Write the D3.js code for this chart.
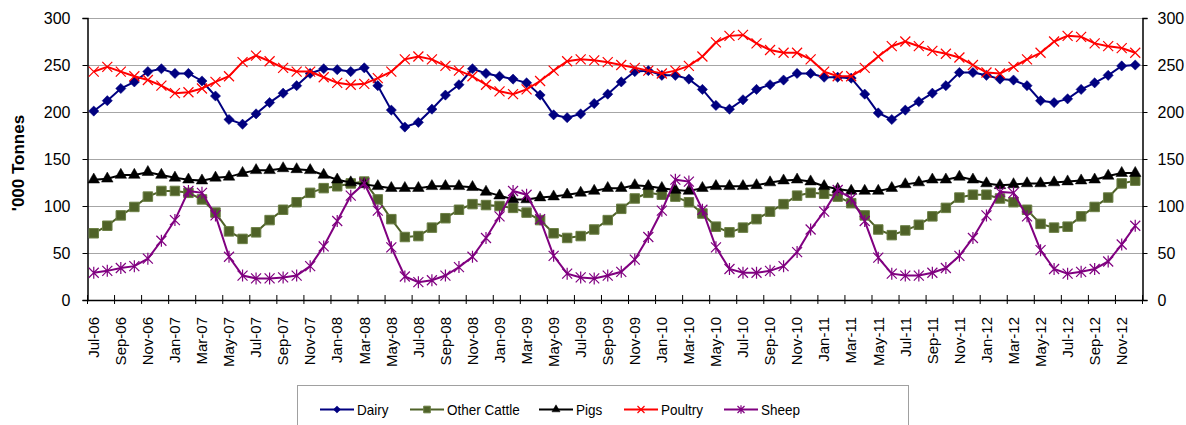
<!DOCTYPE html>
<html>
<head>
<meta charset="utf-8">
<script src="https://cdn.jsdelivr.net/npm/d3@7"></script>
<style>
  body { margin: 0; background: #fff; }
  svg { font-family: Arial, "Liberation Sans", sans-serif; }
</style>
</head>
<body>
<svg width="1186" height="425"></svg>
<script>
// monthly series, Jul-06 .. Dec-12, '000 tonnes

var months = d3.timeMonths(new Date(2006, 6, 1), new Date(2013, 0, 1));
var fmt = d3.timeFormat('%b-%y');
var labels = months.map(fmt);

var dairy = [201, 212, 225, 232, 243, 246, 241, 241, 233, 217, 192, 187, 198, 210, 220, 228, 241, 246, 245, 243, 247, 228, 202,
  184, 189, 203, 218, 229, 246, 241, 238, 235, 231, 218, 197, 194, 198, 209, 219, 232, 243, 244, 239, 239, 235, 224, 207, 203, 213, 224, 229, 234,
  241, 241, 237, 237, 236, 219, 199, 192, 202, 211, 220, 228, 242, 242, 239, 235, 234, 228, 212, 210, 214, 224, 231, 239, 249, 250];

var otherCattle = [71, 79, 90, 99, 110, 116, 116, 114, 107, 93, 73, 65, 72, 85, 96, 104, 114, 119, 121, 124,
  126, 107, 86, 67, 68, 77, 87, 96, 102, 101, 100, 98, 93, 85, 71, 66, 68, 75, 85, 97,
  108, 114, 112, 110, 104, 92, 78, 72, 77, 86, 94, 102, 111, 114, 113, 110, 103, 90, 75,
  69, 74, 80, 89, 98, 109, 112, 112, 108, 104, 96, 81, 77, 78, 89, 99, 109, 124, 127];

var pigs = [128, 129, 133, 133, 136, 133, 130, 128, 127, 130, 131, 135, 138, 138, 140, 139, 138, 133, 128, 125,
  123, 121, 119, 119, 119, 121, 121, 121, 120, 115, 111, 107, 107, 109, 110, 112, 114, 116, 119, 119,
  122, 121, 119, 117, 116, 119, 121, 121, 121, 122, 125, 127, 128, 126, 121, 118, 116, 116, 116,
  119, 123, 125, 128, 128, 131, 128, 124, 122, 123, 124, 124, 125, 126, 127, 128, 132, 135, 135];

var poultry = [243, 248, 243, 238, 234, 228, 220, 221, 225, 232, 238, 253, 260, 254, 247, 243, 243, 237, 231, 229, 230, 236, 243,
  256, 259, 256, 249, 244, 238, 229, 222, 219, 224, 233, 244, 254, 256, 255, 253, 250, 247, 244, 241, 244, 249, 259, 274, 281, 282, 273, 266, 263,
  263, 256, 243, 238, 238, 247, 259, 270, 275, 270, 265, 262, 258, 250, 242, 241, 248, 256, 263, 275, 281, 280, 273, 270, 268, 263];

var sheep = [29, 31, 34, 36, 44, 63, 85, 116, 114, 90, 46, 26, 23, 23, 24, 26, 36, 57, 84, 111,
  124, 95, 56, 25, 19, 21, 26, 35, 46, 66, 89, 116, 112, 86, 47, 28, 24, 23, 26, 30,
  43, 67, 95, 128, 126, 96, 56, 33, 29, 29, 31, 36, 51, 75, 94, 117, 108, 84, 45,
  28, 26, 26, 29, 34, 47, 66, 90, 115, 114, 89, 53, 33, 28, 30, 33, 41, 59, 79];

var yTicks = [0, 50, 100, 150, 200, 250, 300];

var series = [
  { name: 'Dairy', values: dairy, color: '#000080', marker: 'diamond' },
  { name: 'Other Cattle', values: otherCattle, color: '#4f6228', marker: 'square' },
  { name: 'Pigs', values: pigs, color: '#000000', marker: 'triangle' },
  { name: 'Poultry', values: poultry, color: '#ff0000', marker: 'times' },
  { name: 'Sheep', values: sheep, color: '#800080', marker: 'star' }
];

var svg = d3.select('svg');
var margin = { left: 87, right: 1142, top: 18, bottom: 300 };

var x = d3.scaleBand().domain(labels).range([margin.left, margin.right]).padding(0);
var y = d3.scaleLinear().domain([0, 300]).range([margin.bottom, margin.top]);

// grid
svg.append('g').selectAll('line')
  .data(yTicks.filter(function(d) { return d > 0; }))
  .enter().append('line')
  .attr('x1', margin.left).attr('x2', margin.right)
  .attr('y1', function(d) { return y(d) + 0.5; })
  .attr('y2', function(d) { return y(d) + 0.5; })
  .attr('stroke', '#a6a6a6').attr('stroke-width', 1);

// left / right axes
var yLeft = svg.append('g')
  .attr('transform', 'translate(' + (margin.left + 0.5) + ',0)')
  .call(d3.axisLeft(y).tickValues(yTicks).tickSize(5).tickPadding(12));
var yRight = svg.append('g')
  .attr('transform', 'translate(' + (margin.right + 0.5) + ',0)')
  .call(d3.axisRight(y).tickValues(yTicks).tickSize(5).tickPadding(10));

[yLeft, yRight].forEach(function(g) {
  g.select('.domain').attr('stroke', '#000').attr('stroke-width', 1.5);
  g.selectAll('.tick line').attr('stroke', '#000');
  g.selectAll('.tick text').attr('font-size', 16).attr('fill', '#000')
    .attr('font-family', 'Arial, "Liberation Sans", sans-serif');
});

// bottom axis: labels every 2nd month, ticks on category boundaries
var xAxis = svg.append('g')
  .attr('transform', 'translate(0,' + margin.bottom + ')')
  .call(d3.axisBottom(x)
    .tickValues(labels.filter(function(d, i) { return i % 2 === 0; }))
    .tickSize(0).tickPadding(0));
xAxis.select('.domain').remove();
xAxis.selectAll('.tick text')
  .attr('font-size', 15)
  .attr('font-family', 'Arial, "Liberation Sans", sans-serif')
  .attr('fill', '#000')
  .attr('text-anchor', 'end')
  .attr('dy', '0.35em')
  .attr('transform', 'translate(0,17) rotate(-90)');

svg.append('line')
  .attr('x1', margin.left).attr('x2', margin.right + 1)
  .attr('y1', margin.bottom + 0.5).attr('y2', margin.bottom + 0.5)
  .attr('stroke', '#000').attr('stroke-width', 1.5);

var boundaries = d3.range(0, labels.length + 1, 2);
svg.append('g').selectAll('line')
  .data(boundaries)
  .enter().append('line')
  .attr('x1', function(d) { return margin.left + d * x.step() + 0.5; })
  .attr('x2', function(d) { return margin.left + d * x.step() + 0.5; })
  .attr('y1', margin.bottom - 5).attr('y2', margin.bottom + 4)
  .attr('stroke', '#000');

// y title
svg.append('text')
  .attr('transform', 'translate(24,163) rotate(-90)')
  .attr('text-anchor', 'middle')
  .attr('font-size', 17)
  .attr('font-weight', 'bold')
  .text("'000 Tonnes");

// markers
var markerPath = function(type, s) {
  var r;
  if (type === 'diamond') {
    return d3.symbol().type(d3.symbolSquare).size(52 * s * s)();
  }
  if (type === 'square') {
    return d3.symbol().type(d3.symbolSquare).size(90 * s * s)();
  }
  if (type === 'triangle') {
    return d3.symbol().type(d3.symbolTriangle).size(58 * s * s)();
  }
  if (type === 'times') {
    r = 5 * s;
    return 'M' + (-r) + ',' + (-r) + 'L' + r + ',' + r + 'M' + (-r) + ',' + r + 'L' + r + ',' + (-r);
  }
  r = 5 * s;
  return 'M' + (-r) + ',' + (-r) + 'L' + r + ',' + r + 'M' + (-r) + ',' + r + 'L' + r + ',' + (-r) +
    'M0,' + (-r * 1.2) + 'L0,' + (r * 1.2);
};

var cx = function(i) { return x(labels[i]) + x.bandwidth() / 2; };

var line = d3.line()
  .x(function(d, i) { return cx(i); })
  .y(function(d) { return y(d); });

var drawMarker = function(sel, s, scale) {
  var filled = s.marker === 'diamond' || s.marker === 'square' || s.marker === 'triangle';
  sel.attr('d', markerPath(s.marker, scale))
    .attr('fill', filled ? s.color : 'none')
    .attr('stroke', s.marker === 'square' ? '#6b7f45' : s.color)
    .attr('stroke-width', filled ? (s.marker === 'square' ? 1 : 0.5) : 1.2);
};

// draw order like the original: pigs under, sheep on top
var order = ['Dairy', 'Other Cattle', 'Pigs', 'Poultry', 'Sheep'];
order.forEach(function(name) {
  var s = series.find(function(d) { return d.name === name; });
  var g = svg.append('g');
  g.append('path')
    .datum(s.values)
    .attr('d', line)
    .attr('fill', 'none')
    .attr('stroke', s.color)
    .attr('stroke-width', 2);
  g.selectAll('path.mk')
    .data(s.values)
    .enter().append('path')
    .attr('class', 'mk')
    .attr('transform', function(d, i) {
      return 'translate(' + cx(i) + ',' + y(d) + ')' + (s.marker === 'diamond' ? ' rotate(45)' : '');
    })
    .call(drawMarker, s, 1);
});

// legend
var legend = svg.append('g');
legend.append('rect')
  .attr('x', 297.5).attr('y', 385.5)
  .attr('width', 611).attr('height', 45)
  .attr('fill', '#fff').attr('stroke', '#a0a0a0');

var legendX = [320, 410, 539, 624, 724];
series.forEach(function(s, i) {
  var item = legend.append('g').attr('transform', 'translate(' + legendX[i] + ',409.5)');
  item.append('line').attr('x1', 0).attr('x2', 34)
    .attr('stroke', s.color).attr('stroke-width', 2);
  item.append('path')
    .attr('transform', 'translate(17,0)' + (s.marker === 'diamond' ? ' rotate(45)' : ''))
    .call(drawMarker, s, 0.7);
  item.append('text')
    .attr('x', 37).attr('dy', '0.36em')
    .attr('font-size', 15)
    .text(s.name)
    .each(function() {
      // the original legend font runs a little narrower
      var w = this.getComputedTextLength();
      d3.select(this).attr('textLength', w * 0.9).attr('lengthAdjust', 'spacingAndGlyphs');
    });
});
</script>
</body>
</html>
